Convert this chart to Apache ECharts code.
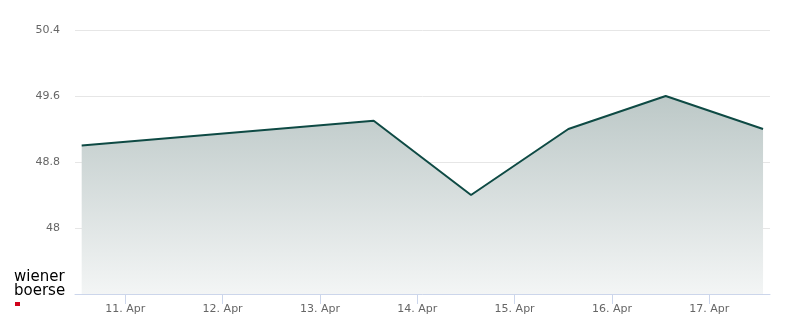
<!DOCTYPE html>
<html>
<head>
<meta charset="utf-8">
<script src="https://cdn.jsdelivr.net/npm/echarts@6/dist/echarts.min.js"></script>
<style>
html,body{margin:0;padding:0;background:#fff;}
#chart{width:800px;height:324px;}
</style>
</head>
<body>
<div id="chart"></div>
<script>
// Data
const dates = ['2026-04-10T13:15', '2026-04-13T13:15', '2026-04-14T13:15', '2026-04-15T13:15', '2026-04-16T13:15', '2026-04-17T13:15'];
const prices = [49.0, 49.3, 48.4, 49.2, 49.6, 49.2];
const tickDays = ['2026-04-11', '2026-04-12', '2026-04-13', '2026-04-14', '2026-04-15', '2026-04-16', '2026-04-17'];
const tickLabels = ['11. Apr', '12. Apr', '13. Apr', '14. Apr', '15. Apr', '16. Apr', '17. Apr'];
const xRange = ['2026-04-10T11:36', '2026-04-17T14:58'];
const yMin = 47.2, yMax = 50.4, yStep = 0.8;

const toMs = s => Date.parse(s + (s.length > 10 ? ':00Z' : 'T00:00:00Z'));
const tickMs = tickDays.map(toMs);
const seriesData = dates.map((d, i) => [toMs(d), prices[i]]);

const chart = echarts.init(document.getElementById('chart'), null, {renderer: 'canvas'});
chart.setOption({
  animation: false,
  grid: {left: 75, right: 30, top: 30, bottom: 30},
  xAxis: {
    type: 'value',
    min: toMs(xRange[0]),
    max: toMs(xRange[1]),
    axisLine: {show: true, lineStyle: {color: '#ccd6eb', width: 1}},
    axisTick: {show: true, customValues: tickMs, length: 10, lineStyle: {color: '#ccd6eb'}},
    axisLabel: {
      customValues: tickMs,
      color: '#666666', fontSize: 11, fontFamily: 'DejaVu Sans', margin: 10,
      formatter: v => tickLabels[tickMs.indexOf(v)] || ''
    },
    splitLine: {show: false}
  },
  yAxis: {
    type: 'value',
    min: yMin, max: yMax, interval: yStep,
    axisLine: {show: false},
    axisTick: {show: false},
    axisLabel: {
      color: '#666666', fontSize: 11, fontFamily: 'DejaVu Sans', margin: 15,
      showMinLabel: false,
      formatter: v => String(Math.round(v * 10) / 10)
    },
    splitLine: {lineStyle: {color: '#e6e6e6', width: 1}}
  },
  series: [{
    type: 'line',
    data: seriesData,
    symbol: 'none',
    lineStyle: {color: '#0e4a44', width: 2},
    areaStyle: {
      color: new echarts.graphic.LinearGradient(0, 0, 0, 1, [
        {offset: 0, color: '#bcc8c7'},
        {offset: 1, color: '#f3f5f5'}
      ]),
      opacity: 1
    }
  }],
  graphic: [
    {type: 'text', x: 14, y: 277, style: {text: 'wiener', font: '15px "DejaVu Sans", sans-serif', fill: '#000', verticalAlign: 'middle'}},
    {type: 'text', x: 14, y: 291.5, style: {text: 'boerse', font: '15px "DejaVu Sans", sans-serif', fill: '#000', verticalAlign: 'middle'}},
    {type: 'rect', x: 15, y: 302, shape: {width: 5, height: 4}, style: {fill: '#d0021b'}}
  ]
});
</script>
</body>
</html>
